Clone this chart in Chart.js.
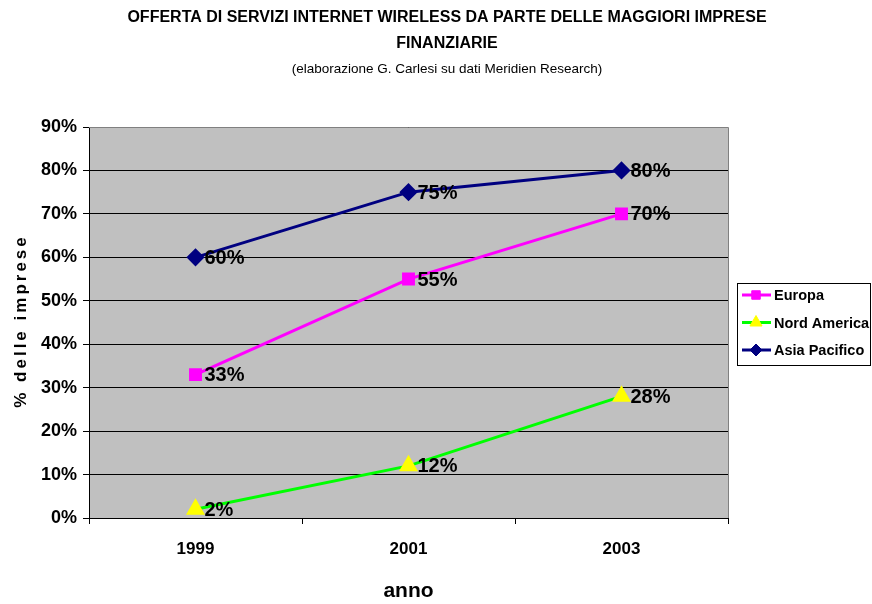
<!DOCTYPE html>
<html>
<head>
<meta charset="utf-8">
<script src="https://cdn.jsdelivr.net/npm/chart.js@4/dist/chart.umd.min.js"></script>
<style>
  html, body { margin: 0; padding: 0; background: #fff; }
  #wrap { width: 872px; height: 604px; position: relative; }
</style>
</head>
<body>
<div id="wrap"><canvas id="chart"></canvas></div>
<script>
const years = ['1999', '2001', '2003'];
const europa = [33, 55, 70];
const nordAmerica = [2, 12, 28];
const asiaPacifico = [60, 75, 80];
const yTicks = [0, 10, 20, 30, 40, 50, 60, 70, 80, 90];

const titleLines = [
  'OFFERTA DI SERVIZI INTERNET WIRELESS DA PARTE DELLE MAGGIORI IMPRESE',
  'FINANZIARIE'
];
const subtitle = '(elaborazione G. Carlesi su dati Meridien Research)';
const yTitle = '% delle imprese';

const FONT = '"Liberation Sans", Arial, sans-serif';

// grey plot area + grey top/right border
const plotBackground = {
  id: 'plotBackground',
  beforeDraw(chart) {
    const { ctx, chartArea: a } = chart;
    ctx.save();
    ctx.fillStyle = '#C0C0C0';
    ctx.fillRect(a.left, a.top, a.right - a.left, a.bottom - a.top);
    ctx.restore();
  },
  afterDraw(chart) {
    const { ctx, chartArea: a } = chart;
    ctx.save();
    ctx.strokeStyle = '#808080';
    ctx.lineWidth = 1;
    ctx.beginPath();
    ctx.moveTo(a.left, a.top + 0.5);
    ctx.lineTo(a.right + 0.5, a.top + 0.5);
    ctx.lineTo(a.right + 0.5, a.bottom);
    ctx.stroke();
    ctx.restore();
  }
};

// titles and the spaced-out y axis title
const headings = {
  id: 'headings',
  afterDraw(chart) {
    const ctx = chart.ctx;
    const cx = 447;
    ctx.save();
    ctx.fillStyle = '#000';
    ctx.textAlign = 'center';
    ctx.textBaseline = 'middle';
    ctx.font = 'bold 16px ' + FONT;
    ctx.fillText(titleLines[0], cx, 18);
    ctx.fillText(titleLines[1], cx, 44);
    ctx.font = '13.5px ' + FONT;
    ctx.fillText(subtitle, cx, 69);

    const a = chart.chartArea;
    ctx.translate(21, (a.top + a.bottom) / 2);
    ctx.rotate(-Math.PI / 2);
    ctx.font = 'bold 17px ' + FONT;
    ctx.letterSpacing = '3px';
    ctx.fillText(yTitle, 1.5, 0);
    ctx.restore();
  }
};

// value labels next to the points
const valueLabels = {
  id: 'valueLabels',
  afterDatasetsDraw(chart) {
    const ctx = chart.ctx;
    ctx.save();
    ctx.fillStyle = '#000';
    ctx.font = 'bold 20px ' + FONT;
    ctx.textAlign = 'left';
    ctx.textBaseline = 'middle';
    chart.data.datasets.forEach((ds, i) => {
      chart.getDatasetMeta(i).data.forEach((pt, j) => {
        ctx.fillText(ds.data[j] + '%', pt.x + 9, pt.y + 1);
      });
    });
    ctx.restore();
  }
};

// legend box at the right
const sideLegend = {
  id: 'sideLegend',
  afterDraw(chart) {
    const ctx = chart.ctx;
    const x = 737, y = 283, w = 133, h = 82;
    ctx.save();
    ctx.fillStyle = '#fff';
    ctx.fillRect(x, y, w, h);
    ctx.strokeStyle = '#000';
    ctx.lineWidth = 1;
    ctx.strokeRect(x + 0.5, y + 0.5, w, h);
    chart.data.datasets.forEach((ds, r) => {
      const ry = y + 12 + r * 27.5;
      ctx.strokeStyle = ds.borderColor;
      ctx.lineWidth = 3;
      ctx.beginPath();
      ctx.moveTo(x + 5, ry);
      ctx.lineTo(x + 34, ry);
      ctx.stroke();
      ctx.fillStyle = ds.pointBackgroundColor;
      ctx.strokeStyle = ds.pointBorderColor;
      ctx.lineWidth = 1;
      Chart.helpers.drawPoint(ctx, {
        pointStyle: ds.pointStyle,
        radius: ds.pointRadius - 1,
        borderWidth: 1,
        rotation: 0
      }, x + 19, ry);
      ctx.fillStyle = '#000';
      ctx.font = 'bold 14.5px ' + FONT;
      ctx.textAlign = 'left';
      ctx.textBaseline = 'middle';
      ctx.fillText(ds.label, x + 37, ry + 1);
    });
    ctx.restore();
  }
};

new Chart(document.getElementById('chart'), {
  type: 'line',
  data: {
    labels: years,
    datasets: [
      {
        label: 'Europa',
        data: europa,
        borderColor: '#FF00FF',
        backgroundColor: '#FF00FF',
        pointBackgroundColor: '#FF00FF',
        pointBorderColor: '#FF00FF',
        pointStyle: 'rect',
        pointRadius: 7,
        borderWidth: 3
      },
      {
        label: 'Nord America',
        data: nordAmerica,
        borderColor: '#00FF00',
        backgroundColor: '#FFFF00',
        pointBackgroundColor: '#FFFF00',
        pointBorderColor: '#FFFF00',
        pointStyle: 'triangle',
        pointRadius: 8,
        borderWidth: 3
      },
      {
        label: 'Asia Pacifico',
        data: asiaPacifico,
        borderColor: '#000080',
        backgroundColor: '#000080',
        pointBackgroundColor: '#000080',
        pointBorderColor: '#000080',
        pointStyle: 'rectRot',
        pointRadius: 7,
        borderWidth: 3
      }
    ]
  },
  options: {
    responsive: true,
    maintainAspectRatio: false,
    animation: false,
    layout: { padding: { top: 127, right: 144, left: 0, bottom: 0 } },
    plugins: {
      legend: { display: false },
      title: { display: false },
      tooltip: { enabled: false }
    },
    elements: { line: { tension: 0 } },
    scales: {
      x: {
        type: 'category',
        offset: true,
        afterFit(scale) { scale.height = 86; },
        grid: {
          offset: true,
          drawOnChartArea: false,
          drawTicks: true,
          tickLength: 6,
          tickColor: '#000'
        },
        border: { color: '#000', width: 1 },
        ticks: {
          color: '#000',
          padding: 15,
          font: { family: FONT, size: 17, weight: 'bold' }
        },
        title: {
          display: true,
          text: 'anno',
          color: '#000',
          padding: { top: 0, bottom: 0 },
          font: { family: FONT, size: 21, weight: 'bold' }
        }
      },
      y: {
        min: 0,
        max: 90,
        afterFit(scale) { scale.width = 89; },
        afterBuildTicks(scale) { scale.ticks = yTicks.map(v => ({ value: v })); },
        grid: {
          color: '#000',
          lineWidth: 1,
          drawTicks: true,
          tickLength: 6,
          tickColor: '#000'
        },
        border: { color: '#000', width: 1 },
        ticks: {
          color: '#000',
          padding: 6,
          font: { family: FONT, size: 18, weight: 'bold' },
          callback: v => v + '%'
        },
        title: { display: false }
      }
    }
  },
  plugins: [plotBackground, valueLabels, sideLegend, headings]
});
</script>
</body>
</html>
